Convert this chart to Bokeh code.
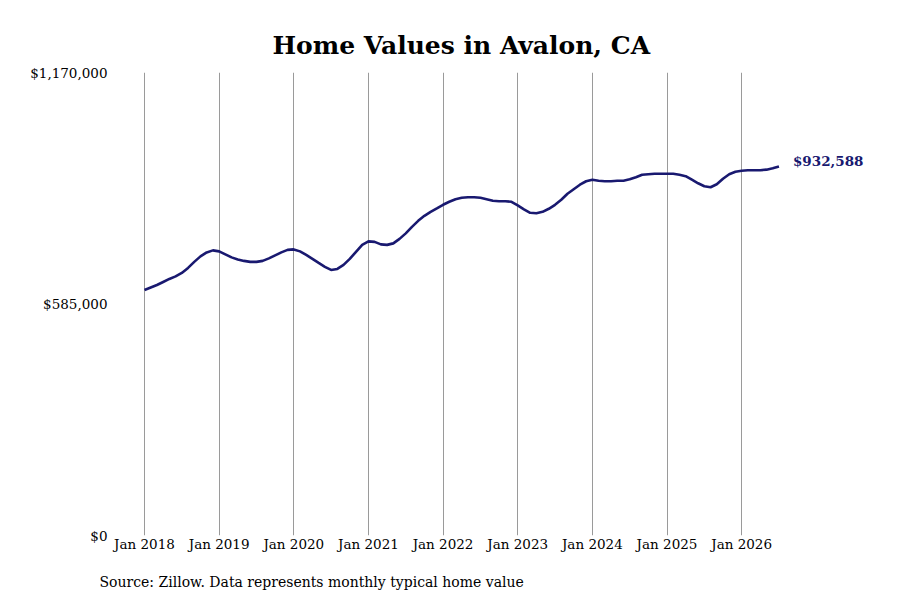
from bokeh.plotting import figure
from bokeh.models import FixedTicker, NumeralTickFormatter, Title, Range1d
from bokeh.embed import file_html
from bokeh.resources import INLINE

# typical home value, monthly from Jan 2018
values = [
    620500, 626800, 633100, 640700, 648300, 654700, 663500, 676200, 691400, 705300, 715400, 720500,
    718000, 710400, 702800, 697700, 693900, 691400, 691400, 693900, 700200, 707800, 715400, 721800,
    723000, 718000, 709100, 699000, 688800, 678700, 671100, 673600, 683800, 699000, 716700, 734400,
    743300, 742000, 735700, 734400, 738200, 749600, 763500, 780000, 795200, 807900, 818000, 826800,
    835700, 843300, 849600, 853400, 854700, 854700, 853400, 849600, 845800, 844600, 844600, 843300,
    834400, 824300, 815500, 814200, 818000, 825600, 835700, 848400, 863600, 875000, 886400, 895200,
    899000, 896500, 895200, 895200, 896500, 896500, 900300, 905400, 911700, 913000, 914200, 914200,
    914200, 914200, 911700, 907900, 899000, 890100, 882600, 880000, 887600, 901600, 913000, 919300,
    921800, 923100, 923100, 923100, 924500, 928000, 932588,
]
months = list(range(len(values)))  # months since Jan 2018

tick_months = [0, 12, 24, 36, 48, 60, 72, 84, 96]
tick_labels = ["Jan 2018", "Jan 2019", "Jan 2020", "Jan 2021", "Jan 2022",
               "Jan 2023", "Jan 2024", "Jan 2025", "Jan 2026"]
y_ticks = [0, 585000, 1170000]
last_label = "$932,588"

FONT = "DejaVu Serif"
NAVY = "#191970"

p = figure(width=900, height=600, output_backend="svg", toolbar_location=None,
           x_range=Range1d(-4.66, 118.0), y_range=Range1d(0, 1170000),
           min_border_left=115, min_border_right=22,
           min_border_top=72, min_border_bottom=65)
p.outline_line_color = None
p.background_fill_color = "white"
p.border_fill_color = "white"

p.title = Title(text="Home Values in Avalon, CA", align="left", offset=157,
                text_font=FONT, text_font_size="25px",
                text_font_style="bold", text_color="black")
# small empty titles used as spacers
p.add_layout(Title(text=" ", text_font_size="3px", standoff=3), "above")
p.add_layout(Title(text=" ", text_font_size="6px", standoff=4), "below")
p.add_layout(Title(text="Source: Zillow. Data represents monthly typical home value",
                   align="left", offset=-16, text_font=FONT,
                   text_font_size="14px", text_font_style="normal",
                   text_color="black"), "below")

p.xaxis.ticker = FixedTicker(ticks=tick_months)
p.xaxis.major_label_overrides = {m: lab for m, lab in zip(tick_months, tick_labels)}
p.yaxis.ticker = FixedTicker(ticks=y_ticks)
p.yaxis.formatter = NumeralTickFormatter(format="$0,0")

for ax in (p.xaxis, p.yaxis):
    ax.axis_line_color = None
    ax.major_tick_line_color = None
    ax.minor_tick_line_color = None
    ax.major_tick_out = 0
    ax.minor_tick_out = 0
    ax.major_label_text_font = FONT
    ax.major_label_text_font_size = "13.5px"
    ax.major_label_text_color = "black"
p.xaxis.major_label_standoff = 0
p.yaxis.major_label_standoff = 8

p.xgrid.ticker = FixedTicker(ticks=tick_months)
p.xgrid.grid_line_color = "#9a9a9a"
p.xgrid.grid_line_width = 1
p.ygrid.grid_line_color = None

p.line(months, values, line_color=NAVY, line_width=2.6)

p.text(x=[months[-1]], y=[values[-1]], text=[last_label], x_offset=14, y_offset=-5,
       text_baseline="middle", text_align="left", text_color=NAVY,
       text_font={"value": FONT}, text_font_size="13.5px", text_font_style="bold")

open("out.html", "w").write(file_html(p, INLINE))
